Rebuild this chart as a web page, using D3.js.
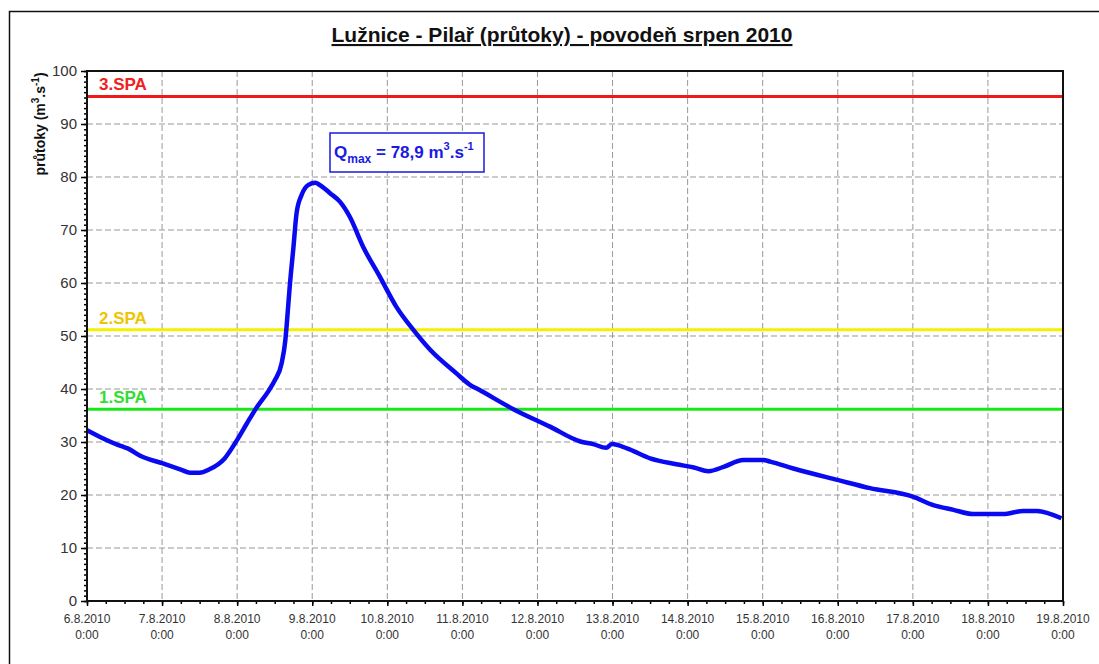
<!DOCTYPE html>
<head>
  <meta charset="utf-8">
  <script src="https://cdn.jsdelivr.net/npm/d3@7"></script>
  <style>
    body { margin:0; background:#fff; }
    text { font-family: Arial, "Liberation Sans", sans-serif; }
    .grid line { stroke:#999; stroke-width:1; stroke-dasharray:6,3; }
    .axis path { display:none; }
    .axis line { stroke:#000; stroke-width:1.5; }
  </style>
</head>
<body>
  <script>
    // hodiny od 6.8.2010 0:00 a průtoky (m3/s)
    var hours = [0, 4, 11, 13, 17, 24, 30, 33, 36, 39, 44, 48, 51, 54, 58, 60, 62.2, 63.4, 63.8, 64.8, 66, 67, 68.6,
                 70.8, 73, 74.4, 77.8, 80.9, 84, 88.3, 93.6, 98.9, 104.4, 109.7, 118, 122.4, 125.5, 136.3, 148,
                 157.7, 161.8, 166, 167.8, 172.6, 180, 188.4, 194, 198.7, 203.5, 209.8, 216.2, 218.4, 225.8,
                 240.2, 250.3, 264, 270.5, 277, 283.2, 292.8, 299.3, 303.6, 311.5];
    var flow = [32.2, 31.0, 29.2, 28.8, 27.4, 26.0, 24.8, 24.2, 24.2, 24.8, 26.9, 30.4, 33.4, 36.3, 39.6, 41.6, 44.8, 49.2, 51.8, 59.3, 66.8, 73.2, 76.6,
                78.5, 78.9, 78.5, 76.9, 75.3, 72.5, 66.8, 61.2, 55.5, 51.1, 47.4, 43.0, 40.8, 39.8, 36.2, 32.9,
                30.1, 29.6, 28.9, 29.6, 28.8, 26.9, 25.8, 25.2, 24.5, 25.3, 26.6, 26.6, 26.3, 25.0,
                22.8, 21.3, 19.7, 18.1, 17.2, 16.4, 16.4, 17.0, 17.0, 15.6];

    var spaNames = ["1.SPA", "2.SPA", "3.SPA"];
    var spaValues = [36.2, 51.2, 95.2];
    var spaColors = ["#18e818", "#f2f200", "#f01818"];
    var spaTextColors = ["#33dd33", "#f0c400", "#f02020"];

    var yTicks = [0, 10, 20, 30, 40, 50, 60, 70, 80, 90, 100];
    var dayLabels = ["6.8.2010", "7.8.2010", "8.8.2010", "9.8.2010", "10.8.2010", "11.8.2010", "12.8.2010",
                     "13.8.2010", "14.8.2010", "15.8.2010", "16.8.2010", "17.8.2010", "18.8.2010", "19.8.2010"];

    var W = 1099, H = 664;
    var margin = {top: 71, right: 36, bottom: 63, left: 87},
        width = W - margin.left - margin.right,
        height = H - margin.top - margin.bottom;

    var start = new Date(2010, 7, 6, 0, 0);
    var data = hours.map(function(h, i) {
      return {date: new Date(start.getTime() + h * 3600000), value: flow[i]};
    });
    var days = dayLabels.map(function(d, i) { return d3.timeDay.offset(start, i); });

    var svg = d3.select("body").append("svg")
        .attr("width", W)
        .attr("height", H);

    // vnější rámeček
    svg.append("path")
        .attr("d", "M9.5," + H + "V11.5H" + W)
        .attr("fill", "none")
        .attr("stroke", "#111")
        .attr("stroke-width", 1.5);

    svg.append("text")
        .attr("x", 562)
        .attr("y", 42)
        .attr("text-anchor", "middle")
        .style("font-size", "21px")
        .style("font-weight", "bold")
        .style("text-decoration", "underline")
        .attr("fill", "#111")
        .text("Lužnice - Pilař (průtoky) - povodeň srpen 2010");

    var g = svg.append("g")
        .attr("transform", "translate(" + margin.left + "," + margin.top + ")");

    var x = d3.scaleTime().domain([days[0], days[days.length - 1]]).range([0, width]);
    var y = d3.scaleLinear().domain([0, 100]).range([height, 0]);

    // mřížka
    g.append("g").attr("class", "grid")
      .selectAll("line").data(days.slice(1, -1)).enter().append("line")
        .attr("x1", function(d) { return x(d); })
        .attr("x2", function(d) { return x(d); })
        .attr("y1", 0).attr("y2", height);
    g.append("g").attr("class", "grid")
      .selectAll("line").data(yTicks.slice(1, -1)).enter().append("line")
        .attr("y1", function(d) { return y(d); })
        .attr("y2", function(d) { return y(d); })
        .attr("x1", 0).attr("x2", width);

    // osy - vedlejší a hlavní značky
    g.append("g").attr("class", "axis")
        .attr("transform", "translate(0," + height + ")")
        .call(d3.axisBottom(x).ticks(d3.timeHour.every(6)).tickSize(3).tickFormat(""));
    g.append("g").attr("class", "axis")
        .attr("transform", "translate(0," + height + ")")
        .call(d3.axisBottom(x).tickValues(days).tickSize(5).tickFormat(""));
    g.append("g").attr("class", "axis")
        .call(d3.axisLeft(y).ticks(100).tickSize(3).tickFormat(""));
    g.append("g").attr("class", "axis")
        .call(d3.axisLeft(y).tickValues(yTicks).tickSize(6).tickFormat(""));

    // popisky os
    g.selectAll(".ylab").data(yTicks).enter().append("text")
        .attr("class", "ylab")
        .attr("x", -10)
        .attr("y", function(d) { return y(d) + 5; })
        .attr("text-anchor", "end")
        .style("font-size", "15px")
        .attr("fill", "#333")
        .text(function(d) { return d; });

    var xl = g.selectAll(".xlab").data(days).enter().append("text")
        .attr("class", "xlab")
        .attr("text-anchor", "middle")
        .style("font-size", "12px")
        .attr("fill", "#333");
    xl.append("tspan")
        .attr("x", function(d) { return x(d); })
        .attr("y", height + 22)
        .text(function(d, i) { return dayLabels[i]; });
    xl.append("tspan")
        .attr("x", function(d) { return x(d); })
        .attr("y", height + 38)
        .text("0:00");

    var yl = svg.append("text")
        .attr("transform", "translate(45,124) rotate(-90)")
        .attr("text-anchor", "middle")
        .style("font-size", "14px")
        .style("font-weight", "bold")
        .attr("fill", "#111");
    yl.append("tspan").text("průtoky (m");
    yl.append("tspan").attr("dy", -6).style("font-size", "10px").text("3");
    yl.append("tspan").attr("dy", 6).text(".s");
    yl.append("tspan").attr("dy", -6).style("font-size", "10px").text("-1");
    yl.append("tspan").attr("dy", 6).text(")");

    // stupně povodňové aktivity
    g.selectAll(".spa").data(spaValues).enter().append("line")
        .attr("class", "spa")
        .attr("x1", 0).attr("x2", width)
        .attr("y1", function(d) { return y(d); })
        .attr("y2", function(d) { return y(d); })
        .attr("stroke", function(d, i) { return spaColors[i]; })
        .attr("stroke-width", 3);
    g.selectAll(".spaText").data(spaValues).enter().append("text")
        .attr("class", "spaText")
        .attr("x", 12)
        .attr("y", function(d) { return y(d) - 6; })
        .style("font-size", "17px")
        .style("font-weight", "bold")
        .attr("fill", function(d, i) { return spaTextColors[i]; })
        .text(function(d, i) { return spaNames[i]; });

    // hydrogram
    g.append("path")
        .datum(data)
        .attr("fill", "none")
        .attr("stroke", "#0a0af0")
        .attr("stroke-width", 4.5)
        .attr("stroke-linejoin", "round")
        .attr("d", d3.line()
          .curve(d3.curveMonotoneX)
          .x(function(d) { return x(d.date); })
          .y(function(d) { return y(d.value); }));

    // rámeček grafu
    g.append("rect")
        .attr("width", width).attr("height", height)
        .attr("fill", "none")
        .attr("stroke", "#111")
        .attr("stroke-width", 2);

    // Qmax
    var qmax = d3.max(flow);
    var box = svg.append("g").attr("transform", "translate(330,133)");
    box.append("rect")
        .attr("width", 154).attr("height", 39)
        .attr("fill", "#fff")
        .attr("stroke", "#1a1ae0")
        .attr("stroke-width", 1.5);
    var qt = box.append("text")
        .attr("x", 4).attr("y", 25)
        .style("font-size", "17px")
        .style("font-weight", "bold")
        .attr("fill", "#1a1ae0");
    qt.append("tspan").text("Q");
    qt.append("tspan").attr("dy", 5).style("font-size", "12px").text("max");
    qt.append("tspan").attr("dy", -5).text(" = " + d3.format(".1f")(qmax).replace(".", ",") + " m");
    qt.append("tspan").attr("dy", -8).style("font-size", "11px").text("3");
    qt.append("tspan").attr("dy", 8).text(".s");
    qt.append("tspan").attr("dy", -8).style("font-size", "11px").text("-1");
  </script>
</body>
